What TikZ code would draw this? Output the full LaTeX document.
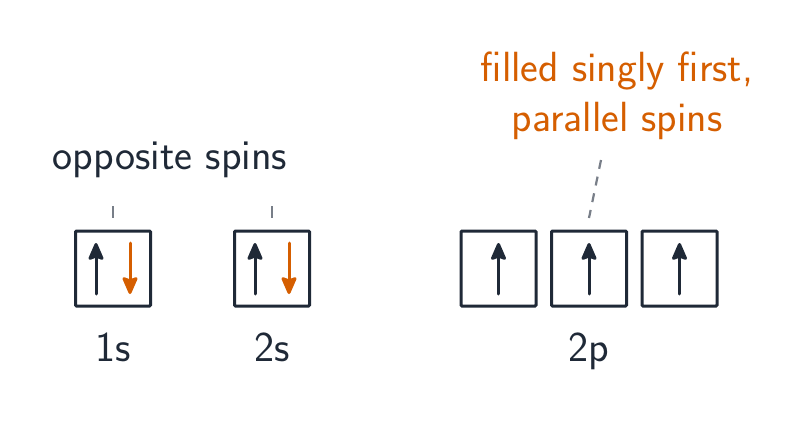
\documentclass[tikz,border=0pt]{standalone}
\usetikzlibrary{arrows.meta}
\definecolor{ink}{RGB}{31,41,55}
\definecolor{vermil}{RGB}{213,94,0}
\definecolor{leadgray}{RGB}{120,126,136}
\begin{document}
\begin{tikzpicture}[x=0.5pt,y=-0.5pt,
  orb/.style={draw=ink,line width=1.5pt,minimum size=37.5pt,inner sep=0pt,rounded corners=0.5pt},
  lbl/.style={font=\sffamily\fontsize{21.3}{26}\selectfont,text=ink,inner sep=0pt},
  note/.style={font=\sffamily\fontsize{21.1}{25}\selectfont,text=vermil,inner sep=0pt,align=center},
  spinup/.style={draw=ink,line width=1.5pt,line cap=round,-{Stealth[length=10pt,width=8.5pt,inset=1.5pt,round]}},
  spindn/.style={draw=vermil,line width=1.5pt,line cap=round,-{Stealth[length=10pt,width=8.5pt,inset=1.5pt,round]}},
  tick/.style={draw=leadgray,line width=1.1pt},
  leader/.style={draw=leadgray,line width=1.1pt,dash pattern=on 4.5pt off 4pt}]
\useasboundingbox (0,0) rectangle (808,423);
% boxes
\node[orb] (s1) at (113,268.5) {};
\node[orb] (s2) at (272,268.5) {};
\node[orb] (p1) at (498.5,268.5) {};
\node[orb] (p2) at (589,268.5) {};
\node[orb] (p3) at (679.5,268.5) {};
% arrows
\coordinate (s1ua) at (96,294); \coordinate (s1ub) at (96,243);
\coordinate (s1da) at (130,243); \coordinate (s1db) at (130,294);
\coordinate (s2ua) at (255,294); \coordinate (s2ub) at (255,243);
\coordinate (s2da) at (289,243); \coordinate (s2db) at (289,294);
\coordinate (p1a) at (498.5,294); \coordinate (p1b) at (498.5,243);
\coordinate (p2a) at (589,294); \coordinate (p2b) at (589,243);
\coordinate (p3a) at (679.5,294); \coordinate (p3b) at (679.5,243);
\draw[spinup] (s1ua) -- (s1ub);
\draw[spindn] (s1da) -- (s1db);
\draw[spinup] (s2ua) -- (s2ub);
\draw[spindn] (s2da) -- (s2db);
\draw[spinup] (p1a) -- (p1b);
\draw[spinup] (p2a) -- (p2b);
\draw[spinup] (p3a) -- (p3b);
% labels
\node[lbl,anchor=base] (l1s) at (113,361) {1s};
\node[lbl,anchor=base] (l2s) at (272,361) {2s};
\node[lbl,anchor=base] (l2p) at (589,361) {2p};
\node[lbl,anchor=base] (opp) at (170,169) {opposite spins};
\node[note] (hund) at (617,96) {filled singly first,\\parallel spins};
% leaders
\coordinate (t1a) at (113,206); \coordinate (t1b) at (113,218);
\coordinate (t2a) at (272,206); \coordinate (t2b) at (272,218);
\draw[tick] (t1a) -- (t1b);
\draw[tick] (t2a) -- (t2b);
\coordinate (da) at (601,160); \coordinate (db) at (589,218);
\draw[leader] (da) -- (db);
\end{tikzpicture}
\end{document}
